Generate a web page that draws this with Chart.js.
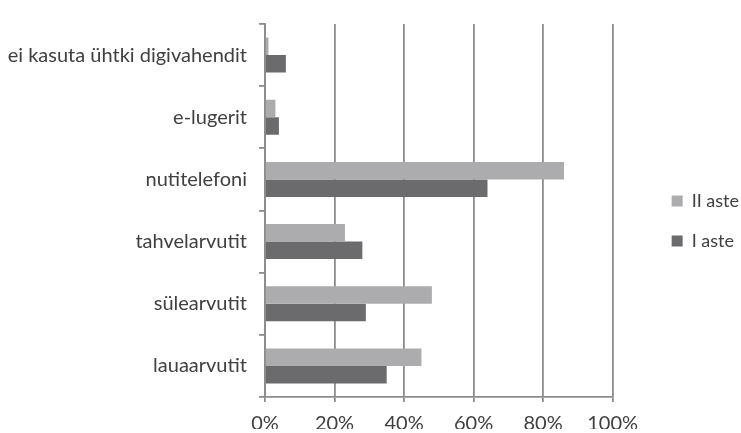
<!DOCTYPE html>
<html>
<head>
<meta charset="utf-8">
<script src="https://cdn.jsdelivr.net/npm/chart.js@4"></script>
<style>
  html, body { margin: 0; padding: 0; background: #ffffff; }
  #wrap { width: 741px; height: 433px; position: relative; }
</style>
</head>
<body>
<div id="wrap"><canvas id="chart"></canvas></div>
<script>
// Digital devices used, by school level (share of respondents)
const categories = [
  'ei kasuta ühtki digivahendit',
  'e-lugerit',
  'nutitelefoni',
  'tahvelarvutit',
  'sülearvutit',
  'lauaarvutit'
];
const seriesNames = ['II aste', 'I aste'];
const secondLevel = [1, 3, 86, 23, 48, 45];
const firstLevel = [6, 4, 64, 28, 29, 35];
const xTicks = [0, 20, 40, 60, 80, 100];

const textColor = '#404040';
const lineColor = '#8c8c8c';
const fontFamily = 'Lato, "Open Sans", sans-serif';

new Chart(document.getElementById('chart'), {
  type: 'bar',
  data: {
    labels: categories,
    datasets: [
      { label: seriesNames[0], data: secondLevel, backgroundColor: '#acacae' },
      { label: seriesNames[1], data: firstLevel, backgroundColor: '#6b6b6d' }
    ]
  },
  options: {
    indexAxis: 'y',
    responsive: true,
    maintainAspectRatio: false,
    animation: false,
    devicePixelRatio: 1,
    categoryPercentage: 0.5625,
    barPercentage: 1,
    layout: { padding: { top: 13, right: -8, bottom: 4, left: 0 } },
    plugins: {
      tooltip: { enabled: false },
      legend: {
        position: 'right',
        labels: {
          boxWidth: 11,
          boxHeight: 11,
          padding: 22,
          color: textColor,
          font: { family: fontFamily, size: 18 }
        }
      }
    },
    scales: {
      x: {
        min: 0,
        max: 100,
        afterBuildTicks: s => { s.ticks = xTicks.map(v => ({ value: v })); },
        afterFit: s => { s.height = 32; },
        grid: { color: lineColor, lineWidth: 1.8, tickLength: 5 },
        border: { display: true, color: lineColor, width: 1.8 },
        ticks: {
          color: textColor,
          padding: 10,
          maxRotation: 0,
          font: { family: fontFamily, size: 20 },
          callback: v => v + '%'
        }
      },
      y: {
        afterFit: s => { s.width = 265; },
        grid: {
          drawOnChartArea: false,
          offset: true,
          color: lineColor,
          lineWidth: 1.8,
          tickLength: 6
        },
        border: { display: true, color: lineColor, width: 1.8 },
        ticks: {
          color: textColor,
          padding: 12,
          font: { family: fontFamily, size: 20 }
        }
      },
      gap: {
        axis: 'y',
        type: 'category',
        position: 'right',
        afterFit: s => { s.width = 37; },
        grid: { display: false },
        border: { display: false },
        ticks: { display: false }
      }
    }
  }
});
</script>
</body>
</html>
